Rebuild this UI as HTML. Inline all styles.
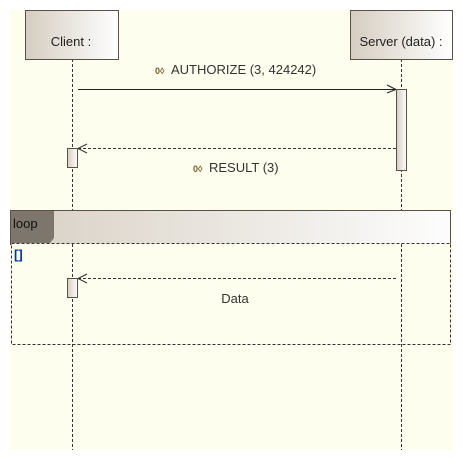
<!DOCTYPE html><html><head><style>body{margin:0;width:463px;height:458px;background:#fff;overflow:hidden}text{font-family:"Liberation Sans",sans-serif}</style></head><body>
<svg width="463" height="458" xmlns="http://www.w3.org/2000/svg">
<defs>
<linearGradient id="g" x1="0" x2="1"><stop offset="0" stop-color="#d5cdc0"/><stop offset="1" stop-color="#fff"/></linearGradient>
<linearGradient id="h" x1="0" x2="1"><stop offset="0" stop-color="#d8d0c4"/><stop offset="1" stop-color="#fdfdfd"/></linearGradient>
</defs>
<rect x="10" y="10" width="443" height="440" fill="#fefeee"/>
<g stroke="#333" stroke-dasharray="3,2" stroke-width="1">
<line x1="72.5" y1="59" x2="72.5" y2="450"/><line x1="401.5" y1="59" x2="401.5" y2="450"/>
</g>
<rect x="25.5" y="10.5" width="93" height="49" fill="url(#g)" stroke="#5a5048"/>
<rect x="350.5" y="10.5" width="102" height="49" fill="url(#g)" stroke="#5a5048"/>
<text x="71" y="46" font-size="13" text-anchor="middle" fill="#222">Client :</text>
<text x="401" y="46" font-size="13" text-anchor="middle" fill="#222">Server (data) :</text>
<text x="155" y="74" font-size="9" fill="#7a5a2a" font-weight="bold">0◊</text>
<text x="171" y="74" font-size="13" fill="#333">AUTHORIZE (3, 424242)</text>
<line x1="78" y1="89.5" x2="396" y2="89.5" stroke="#222"/>
<polyline points="387,85 396,89.5 387,93" fill="none" stroke="#222"/>
<rect x="396.5" y="89.5" width="10" height="81" fill="url(#g)" stroke="#5a5048"/>
<line x1="396" y1="148.5" x2="78" y2="148.5" stroke="#333" stroke-dasharray="3,2"/>
<polyline points="87,144 78,148.5 87,153" fill="none" stroke="#333"/>
<rect x="67.5" y="148.5" width="10" height="19" fill="url(#g)" stroke="#5a5048"/>
<text x="193" y="172" font-size="9" fill="#7a5a2a" font-weight="bold">0◊</text>
<text x="209" y="172" font-size="13" fill="#333">RESULT (3)</text>
<rect x="10.5" y="210.5" width="440" height="34" fill="url(#h)" stroke="#5a5048"/>
<polygon points="11,211 54,211 54,238 50,243 11,243" fill="#7d766c"/>
<text x="13" y="228" font-size="13" fill="#111">loop</text>
<rect x="11.5" y="243.5" width="439" height="101" fill="#fefeee" stroke="#333" stroke-dasharray="3,2"/>
<line x1="72.5" y1="244" x2="72.5" y2="345" stroke="#333" stroke-dasharray="3,2"/>
<line x1="401.5" y1="244" x2="401.5" y2="345" stroke="#333" stroke-dasharray="3,2"/>
<text x="14" y="259" font-size="13" fill="#0033aa" font-weight="bold">[]</text>
<line x1="396" y1="278.5" x2="78" y2="278.5" stroke="#333" stroke-dasharray="3,2"/>
<polyline points="87,274 78,278.5 87,283" fill="none" stroke="#333"/>
<rect x="67.5" y="278.5" width="10" height="19" fill="url(#g)" stroke="#5a5048"/>
<text x="235" y="303" font-size="13" fill="#333" text-anchor="middle">Data</text>
</svg></body></html>
